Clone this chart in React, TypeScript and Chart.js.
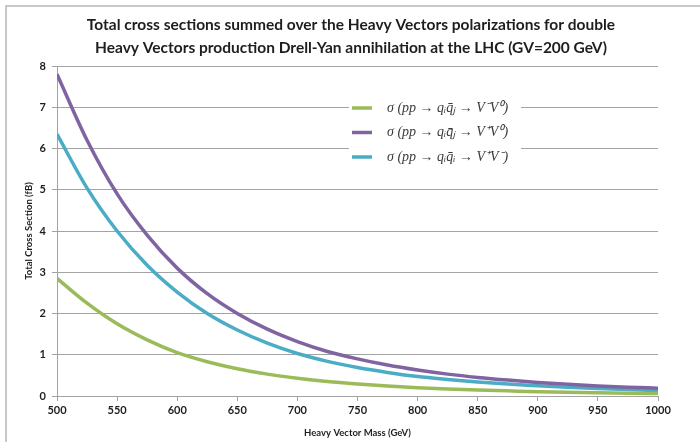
import React, { useEffect, useRef } from "react";
import { Chart, registerables } from "chart.js";

Chart.register(...registerables);

const TITLE_LINES = [
  "Total cross sections summed over the Heavy Vectors polarizations for double",
  "Heavy Vectors production Drell-Yan annihilation at the LHC (GV=200 GeV)",
];
const X_TITLE = "Heavy Vector Mass (GeV)";
const Y_TITLE = "Total Cross Section (fB)";

const MASSES = [500, 525, 550, 575, 600, 625, 650, 675, 700, 725, 750, 775, 800, 825, 850, 875, 900, 925, 950, 975, 1000];

const SERIES_LABELS = [
  "σ (pp → qᵢq̄ⱼ → V⁻V⁰)",
  "σ (pp → qᵢq̄ⱼ → V⁺V⁰)",
  "σ (pp → qᵢq̄ᵢ → V⁺V⁻)",
];
const SERIES_COLORS = ["#9bbb59", "#8064a2", "#4bacc6"];

const GREEN_VALUES = [2.85, 2.25, 1.75, 1.36, 1.05, 0.83, 0.66, 0.53, 0.43, 0.35, 0.29, 0.24, 0.2, 0.17, 0.145, 0.125, 0.105, 0.09, 0.078, 0.067, 0.058];
const PURPLE_VALUES = [7.8, 6.2, 4.9, 3.9, 3.1, 2.48, 2.0, 1.62, 1.32, 1.08, 0.9, 0.75, 0.63, 0.53, 0.45, 0.385, 0.33, 0.285, 0.245, 0.215, 0.19];
const CYAN_VALUES = [6.35, 5.04, 4.0, 3.17, 2.52, 2.0, 1.6, 1.28, 1.03, 0.84, 0.69, 0.57, 0.47, 0.4, 0.34, 0.29, 0.25, 0.21, 0.18, 0.155, 0.135];

const X_MIN = 500;
const X_MAX = 1000;
const X_STEP = 50;
const Y_MIN = 0;
const Y_MAX = 8;
const Y_STEP = 1;

const GRID = "#a3a3a3";
const TEXT = "#1e1e1e";

const framePlugin = {
  id: "frame",
  beforeDraw(chart: any) {
    const ctx = chart.ctx;
    ctx.save();
    ctx.fillStyle = "#ffffff";
    ctx.fillRect(0, 0, chart.width, chart.height);
    ctx.fillStyle = "#c8c8c8";
    ctx.fillRect(5, 5, chart.width - 5, 2);
    ctx.fillRect(5, 5, 2, chart.height - 5);
    ctx.restore();
  },
  afterDraw(chart: any) {
    const ctx = chart.ctx;
    ctx.save();
    ctx.fillStyle = TEXT;
    ctx.font = "bold 15.5px Lato";
    ctx.textAlign = "center";
    ctx.textBaseline = "middle";
    TITLE_LINES.forEach((line, i) => {
      ctx.fillText(line, 351, 25 + i * 23);
    });
    ctx.restore();
  },
};

const legendPlugin = {
  id: "boxLegend",
  beforeDatasetsDraw(chart: any) {
    const ctx = chart.ctx;
    ctx.save();
    ctx.fillStyle = "#ffffff";
    ctx.fillRect(349, 96, 172, 72);
    chart.data.datasets.forEach((ds: any, i: number) => {
      const y = 108 + i * 24.5;
      ctx.strokeStyle = ds.borderColor;
      ctx.lineWidth = 3.5;
      ctx.beginPath();
      ctx.moveTo(352, y);
      ctx.lineTo(372, y);
      ctx.stroke();
      ctx.fillStyle = "#3a3a3a";
      ctx.font = 'italic 14px "Liberation Serif"';
      ctx.textAlign = "left";
      ctx.textBaseline = "middle";
      ctx.fillText(ds.label, 387, y);
    });
    ctx.restore();
  },
};

export default function App() {
  const canvasRef = useRef<HTMLCanvasElement | null>(null);

  useEffect(() => {
    if (!canvasRef.current) return;
    const valueSets = [GREEN_VALUES, PURPLE_VALUES, CYAN_VALUES];
    const chart = new Chart(canvasRef.current, {
      type: "line",
      data: {
        datasets: valueSets.map((vals, i) => ({
          label: SERIES_LABELS[i],
          data: MASSES.map((m, j) => ({ x: m, y: vals[j] })),
          borderColor: SERIES_COLORS[i],
          backgroundColor: SERIES_COLORS[i],
          borderWidth: 3.5,
          pointRadius: 0,
          cubicInterpolationMode: "monotone" as const,
          fill: false,
        })),
      },
      options: {
        responsive: false,
        animation: false,
        layout: { padding: { top: 66, left: 10, right: 42, bottom: 0 } },
        plugins: {
          legend: { display: false },
          title: { display: false },
          tooltip: { enabled: false },
        },
        scales: {
          x: {
            type: "linear",
            min: X_MIN,
            max: X_MAX,
            afterFit: (scale: any) => {
              scale.height = 46;
            },
            ticks: {
              stepSize: X_STEP,
              color: TEXT,
              padding: 3,
              maxRotation: 0,
              callback: (v: any) => String(v),
              font: { family: "Lato", weight: "bold", size: 11 },
            },
            grid: {
              drawOnChartArea: false,
              drawTicks: true,
              tickLength: 5,
              color: GRID,
            },
            border: { display: true, color: GRID, width: 1 },
            title: {
              display: true,
              text: X_TITLE,
              color: TEXT,
              padding: { top: 0, bottom: 3 },
              font: { family: "Lato", weight: "bold", size: 9.5 },
            },
          },
          y: {
            type: "linear",
            min: Y_MIN,
            max: Y_MAX,
            afterFit: (scale: any) => {
              scale.width = 47;
            },
            ticks: {
              stepSize: Y_STEP,
              color: TEXT,
              padding: 6,
              font: { family: "Lato", weight: "bold", size: 11 },
            },
            grid: {
              color: GRID,
              tickLength: 5,
            },
            border: { display: true, color: GRID, width: 1 },
            title: {
              display: true,
              text: Y_TITLE,
              color: TEXT,
              padding: { top: 13, bottom: 0 },
              font: { family: "Lato", weight: "bold", size: 9.5 },
            },
          },
        },
      },
      plugins: [framePlugin, legendPlugin],
    });
    return () => chart.destroy();
  }, []);

  return (
    <div style={{ position: "absolute", left: 0, top: 0, width: 700, height: 442 }}>
      <canvas ref={canvasRef} width={700} height={442} />
    </div>
  );
}
